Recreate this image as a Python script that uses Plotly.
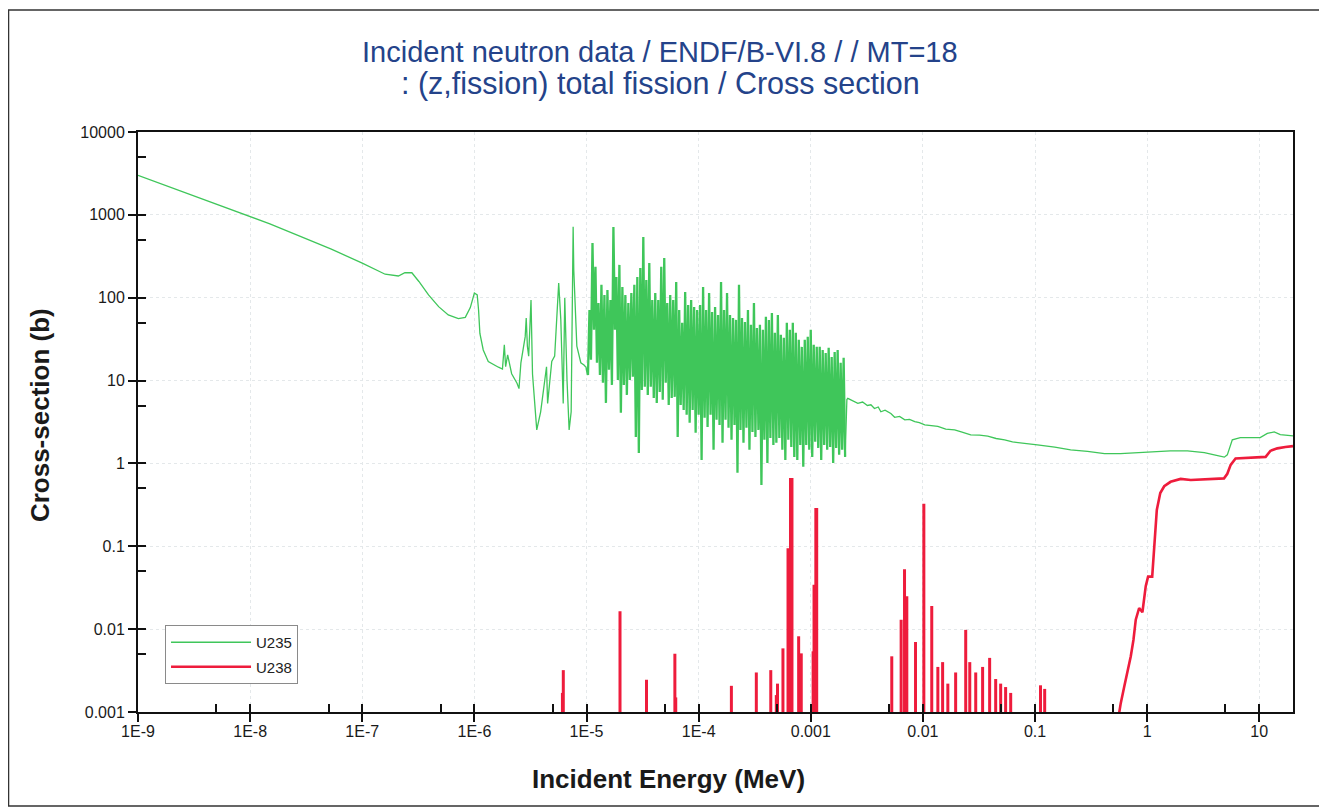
import plotly.graph_objects as go

# ---------------- data ----------------
# U235 thermal / low-energy part (MeV, barns)
u235_low_E = [1.0e-9, 2.0e-9, 5.0e-9, 1.0e-8, 1.5e-8, 2.7e-8, 5.3e-8, 1.0e-7, 1.3e-7,
              1.6e-7, 2.1e-7, 2.4e-7, 2.77e-7, 3.2e-7, 3.9e-7, 4.8e-7, 5.85e-7, 7.2e-7, 8.3e-7,
              9.2e-7, 1.0e-6, 1.06e-6, 1.09e-6, 1.12e-6, 1.2e-6, 1.33e-6, 1.64e-6, 1.78e-6, 1.85e-6,
              1.9e-6, 1.98e-6, 2.15e-6, 2.4e-6, 2.5e-6, 2.6e-6, 2.84e-6, 2.9e-6, 2.97e-6, 3.05e-6,
              3.2e-6, 3.3e-6, 3.5e-6, 3.6e-6, 3.9e-6, 4.4e-6, 4.5e-6, 4.9e-6, 5.2e-6, 5.65e-6,
              5.9e-6, 6.2e-6, 6.4e-6, 6.7e-6, 7.0e-6, 7.3e-6, 7.6e-6, 7.7e-6, 8.2e-6, 8.9e-6, 9.5e-6]
u235_low_xs = [3000, 2130, 1350, 950, 780, 560, 385, 262, 222,
               192, 183, 200, 200, 157, 108, 78, 62, 56, 58,
               76, 114, 108, 71, 37, 23.4, 17, 14.5, 13.8, 27,
               14.7, 20.4, 12.1, 9.3, 8.0, 16.4, 33.9, 57, 26, 19.7,
               94, 12, 3.4, 2.54, 4.2, 14.7, 5.3, 17, 19.7, 150,
               54, 5.3, 99, 10.2, 2.54, 4.2, 720, 216, 26, 16.4, 15.4]

# U235 resolved resonance region (alternating peaks / valleys)
u235_res_E = [
    1.000e-5, 1.031e-5, 1.063e-5, 1.096e-5, 1.131e-5, 1.166e-5, 1.202e-5, 1.240e-5, 1.278e-5, 1.318e-5,
    1.359e-5, 1.402e-5, 1.445e-5, 1.490e-5, 1.537e-5, 1.585e-5, 1.634e-5, 1.685e-5, 1.738e-5, 1.792e-5,
    1.848e-5, 1.905e-5, 1.965e-5, 2.026e-5, 2.089e-5, 2.154e-5, 2.221e-5, 2.291e-5, 2.362e-5, 2.436e-5,
    2.512e-5, 2.590e-5, 2.671e-5, 2.754e-5, 2.840e-5, 2.929e-5, 3.020e-5, 3.114e-5, 3.211e-5, 3.311e-5,
    3.415e-5, 3.521e-5, 3.631e-5, 3.744e-5, 3.861e-5, 3.981e-5, 4.105e-5, 4.233e-5, 4.365e-5, 4.502e-5,
    4.642e-5, 4.787e-5, 4.936e-5, 5.090e-5, 5.248e-5, 5.412e-5, 5.581e-5, 5.754e-5, 5.934e-5, 6.119e-5,
    6.310e-5, 6.506e-5, 6.709e-5, 6.918e-5, 7.134e-5, 7.356e-5, 7.586e-5, 7.822e-5, 8.066e-5, 8.318e-5,
    8.577e-5, 8.845e-5, 9.120e-5, 9.405e-5, 9.698e-5,
    1.000e-4, 1.031e-4, 1.063e-4, 1.096e-4, 1.131e-4, 1.166e-4, 1.202e-4, 1.240e-4, 1.278e-4, 1.318e-4,
    1.359e-4, 1.402e-4, 1.445e-4, 1.490e-4, 1.537e-4, 1.585e-4, 1.634e-4, 1.685e-4, 1.738e-4, 1.792e-4,
    1.848e-4, 1.905e-4, 1.965e-4, 2.026e-4, 2.089e-4, 2.154e-4, 2.221e-4, 2.291e-4, 2.362e-4, 2.436e-4,
    2.512e-4, 2.590e-4, 2.671e-4, 2.754e-4, 2.840e-4, 2.929e-4, 3.020e-4, 3.114e-4, 3.211e-4, 3.311e-4,
    3.415e-4, 3.521e-4, 3.631e-4, 3.744e-4, 3.861e-4, 3.981e-4, 4.105e-4, 4.233e-4, 4.365e-4, 4.502e-4,
    4.642e-4, 4.787e-4, 4.936e-4, 5.090e-4, 5.248e-4, 5.412e-4, 5.581e-4, 5.754e-4, 5.934e-4, 6.119e-4,
    6.310e-4, 6.506e-4, 6.709e-4, 6.918e-4, 7.134e-4, 7.356e-4, 7.586e-4, 7.822e-4, 8.066e-4, 8.318e-4,
    8.577e-4, 8.845e-4, 9.120e-4, 9.405e-4, 9.698e-4,
    1.000e-3, 1.031e-3, 1.063e-3, 1.096e-3, 1.131e-3, 1.166e-3, 1.202e-3, 1.240e-3, 1.278e-3, 1.318e-3,
    1.359e-3, 1.402e-3, 1.445e-3, 1.490e-3, 1.537e-3, 1.585e-3, 1.634e-3, 1.685e-3, 1.738e-3, 1.792e-3,
    1.848e-3, 1.905e-3, 1.965e-3, 2.026e-3]
u235_res_xs = [
    14.2, 11.7, 71, 17.8, 458, 41, 236, 16.4, 86.5, 11.7,
    143, 9.4, 108, 5.38, 124, 13.5, 94, 8.87, 714, 41,
    178, 10.2, 249, 4.08, 135, 8.87, 108, 6.72, 86.5, 10.2,
    114, 11.1, 143, 2.09, 178, 1.34, 229, 7.7, 542, 8.4,
    164, 6.72, 263, 8.4, 94, 6.18, 114, 5.38, 94, 7.3,
    236, 5.85, 302, 9.4, 86.5, 5.09, 108, 6.18, 94, 6.36,
    155, 2.09, 71, 5.09, 49.7, 4.43, 117, 3.86, 81.8, 3.09,
    94, 4.43, 77.4, 2.34, 71,
    3.86, 81.8, 1.10, 135, 3.55, 71, 2.76, 114, 3.86, 67.2,
    1.46, 77.4, 3.36, 62, 2.92, 155, 1.78, 71, 3.36, 114,
    2.69, 62, 1.93, 57, 2.92, 54, 0.77, 143, 2.54, 57,
    1.78, 51, 2.69, 71, 1.46, 47, 2.40, 86.5, 2.09, 43.2,
    2.54, 47, 0.55, 41, 1.93, 58.7, 1.01, 54, 2.03, 65.3,
    1.67, 37.7, 1.78, 62, 2.03, 35.6, 1.46, 32.8, 1.10, 49.7,
    1.93, 41, 1.58, 49.7, 1.20, 37.7, 1.10, 31, 1.67, 25.5,
    0.91, 31, 1.67, 33.7, 1.46,
    41, 1.20, 27, 1.83, 25.5, 1.54, 25.5, 1.10, 23.4, 1.67,
    21.5, 1.46, 24.8, 1.58, 19.3, 1.01, 22.1, 1.54, 23.4, 1.27,
    16.4, 1.46, 18.8, 1.20]

# U235 unresolved / fast part
u235_fast_E = [2.1e-3, 2.14e-3, 2.4e-3, 2.63e-3, 2.9e-3, 3.2e-3, 3.44e-3, 3.7e-3, 4.0e-3, 4.22e-3,
               4.6e-3, 5.18e-3, 5.6e-3, 6.2e-3, 6.9e-3, 7.6e-3, 8.47e-3, 9.3e-3, 1.04e-2, 1.2e-2,
               1.36e-2, 1.6e-2, 1.92e-2, 2.2e-2, 2.67e-2, 3.2e-2, 3.79e-2, 4.5e-2, 5.36e-2, 6.3e-2,
               7.44e-2, 0.105, 0.15, 0.208, 0.294, 0.417, 0.578, 0.82, 1.16, 1.61,
               2.29, 3.24, 3.97, 4.88, 5.19, 5.75, 6.78, 10.2, 11.8, 13.6, 15.4, 20.0]
u235_fast_xs = [5.9, 6.1, 5.6, 5.3, 5.5, 5.0, 5.1, 4.6, 4.8, 4.2,
                4.4, 4.0, 3.6, 3.7, 3.36, 3.4, 3.2, 3.1, 2.92, 2.85,
                2.8, 2.6, 2.54, 2.4, 2.21, 2.2, 2.13, 2.0, 1.93, 1.82,
                1.76, 1.67, 1.57, 1.46, 1.40, 1.31, 1.31, 1.35, 1.40, 1.42,
                1.42, 1.35, 1.27, 1.19, 1.27, 1.93, 2.05, 2.05, 2.3, 2.4, 2.23, 2.15]

# U238 fission threshold part
u238_E = [0.55, 0.582, 0.624, 0.668, 0.715, 0.755, 0.792, 0.849, 0.908, 0.972,
          1.02, 1.11, 1.17, 1.22, 1.31, 1.42, 1.62, 1.99, 2.45, 3.22,
          4.85, 5.19, 5.56, 6.15, 8.37, 11.4, 12.6, 14.5, 17.1, 20.0]
u238_xs = [0.0008, 0.00128, 0.002, 0.00295, 0.0047, 0.0074, 0.013, 0.018, 0.016, 0.033,
           0.043, 0.043, 0.109, 0.275, 0.44, 0.53, 0.60, 0.65, 0.63, 0.64,
           0.66, 0.75, 0.96, 1.15, 1.17, 1.20, 1.42, 1.52, 1.58, 1.62]

# U238 sub-threshold resonance peaks (MeV, barns)
u238_res_E = [6.1e-6, 6.21e-6, 1.99e-5, 3.43e-5, 6.14e-5, 6.25e-5, 1.96e-4, 3.27e-4, 4.40e-4, 4.93e-4,
              5.05e-4, 5.65e-4, 6.27e-4, 6.6e-4, 6.8e-4, 7.80e-4, 8.23e-4, 1.05e-3, 1.07e-3, 1.11e-3,
              1.13e-3, 5.28e-3, 6.40e-3, 6.86e-3, 7.19e-3, 8.60e-3, 1.02e-2, 1.20e-2, 1.36e-2, 1.50e-2,
              1.67e-2, 1.96e-2, 2.41e-2, 2.62e-2, 2.96e-2, 3.41e-2, 3.94e-2, 4.46e-2, 4.94e-2, 5.47e-2,
              6.07e-2, 0.112, 0.122]
u238_res_xs = [0.0017, 0.0032, 0.0164, 0.00245, 0.00505, 0.0015, 0.00207, 0.0030, 0.0032, 0.0016,
               0.0022, 0.00586, 0.095, 0.665, 0.665, 0.0082, 0.0051, 0.0054, 0.0343, 0.289,
               0.289, 0.0047, 0.013, 0.053, 0.025, 0.0070, 0.326, 0.019, 0.0035, 0.004,
               0.0022, 0.003, 0.0098, 0.004, 0.003, 0.0035, 0.0045, 0.0025, 0.0022, 0.002,
               0.0017, 0.0021, 0.0019]

x_tick_vals = [1e-9, 1e-8, 1e-7, 1e-6, 1e-5, 1e-4, 1e-3, 1e-2, 1e-1, 1, 10]
x_tick_text = ["1E-9", "1E-8", "1E-7", "1E-6", "1E-5", "1E-4", "0.001", "0.01", "0.1", "1", "10"]
x_minor_vals = [5e-9, 5e-8, 5e-7, 5e-6, 5e-5, 5e-4, 5e-3, 5e-2, 0.5, 5]
y_tick_vals = [1e-3, 1e-2, 1e-1, 1, 10, 100, 1000, 10000]
y_tick_text = ["0.001", "0.01", "0.1", "1", "10", "100", "1000", "10000"]
y_minor_vals = [5e-3, 5e-2, 0.5, 5, 50, 500, 5000]

# ---------------- figure ----------------
GREEN = "#3fc65a"
RED = "#ee1c3c"
FONT = "Liberation Sans, Arial, sans-serif"

spk_x, spk_y = [], []
for e, v in zip(u238_res_E, u238_res_xs):
    spk_x += [e, e, None]
    spk_y += [1e-5, v, None]

fig = go.Figure()
fig.add_trace(go.Scatter(x=u235_low_E + u235_res_E[:1], y=u235_low_xs + u235_res_xs[:1],
                         mode="lines", name="U235", legendgroup="u235",
                         line=dict(color=GREEN, width=1.3)))
fig.add_trace(go.Scatter(x=u235_res_E, y=u235_res_xs, mode="lines", showlegend=False,
                         legendgroup="u235", line=dict(color=GREEN, width=2.3)))
fig.add_trace(go.Scatter(x=u235_res_E[-1:] + u235_fast_E, y=u235_res_xs[-1:] + u235_fast_xs,
                         mode="lines", showlegend=False, legendgroup="u235",
                         line=dict(color=GREEN, width=1.3)))
fig.add_trace(go.Scatter(x=u238_E, y=u238_xs, mode="lines", name="U238",
                         legendgroup="u238", line=dict(color=RED, width=2.6)))
fig.add_trace(go.Scatter(x=spk_x, y=spk_y, mode="lines", showlegend=False,
                         legendgroup="u238", line=dict(color=RED, width=3)))
# invisible trace holding the overlay axes used for inner halves of major ticks
fig.add_trace(go.Scatter(x=[1e-12], y=[1e-12], xaxis="x2", yaxis="y2", mode="markers",
                         marker=dict(opacity=0), showlegend=False, hoverinfo="skip"))

XR = [-9, 1.30103]
YR = [-3, 4]
tickfont = dict(family=FONT, size=16, color="#1a1a1a")

fig.update_layout(
    width=1319, height=803,
    paper_bgcolor="white", plot_bgcolor="white",
    margin=dict(l=130, r=34, t=124, b=99),
    showlegend=True,
    legend=dict(x=0.0234, y=0.15, xanchor="left", yanchor="top",
                bgcolor="white", bordercolor="#8a8a8a", borderwidth=1,
                font=dict(family=FONT, size=15, color="#222"),
                itemwidth=80, tracegroupgap=2),
    xaxis=dict(type="log", range=XR, tickvals=x_tick_vals, ticktext=x_tick_text,
               ticks="outside", ticklen=8, tickwidth=2, tickcolor="#111",
               ticklabelstandoff=-4,
               showline=True, linecolor="#111", linewidth=2, mirror=True,
               showgrid=True, gridcolor="#e4e8ea", griddash="dot", gridwidth=1,
               zeroline=False, tickfont=tickfont,
               minor=dict(tickmode="array", tickvals=x_minor_vals, ticks="inside",
                          ticklen=8, tickwidth=1.5, tickcolor="#111", showgrid=False)),
    yaxis=dict(type="log", range=YR, tickvals=y_tick_vals, ticktext=y_tick_text,
               ticks="outside", ticklen=8, tickwidth=2, tickcolor="#111",
               showline=True, linecolor="#111", linewidth=2, mirror=True,
               showgrid=True, gridcolor="#e4e8ea", griddash="dot", gridwidth=1,
               zeroline=False, tickfont=tickfont,
               minor=dict(tickmode="array", tickvals=y_minor_vals, ticks="inside",
                          ticklen=8, tickwidth=1.5, tickcolor="#111", showgrid=False)),
    xaxis2=dict(type="log", range=XR, overlaying="x", anchor="y2", side="bottom",
                tickvals=x_tick_vals, ticks="inside", ticklen=8, tickwidth=2, tickcolor="#111",
                showticklabels=False, showgrid=False, showline=False, zeroline=False),
    yaxis2=dict(type="log", range=YR, overlaying="y", anchor="x2", side="left",
                tickvals=y_tick_vals, ticks="inside", ticklen=8, tickwidth=2, tickcolor="#111",
                showticklabels=False, showgrid=False, showline=False, zeroline=False),
    annotations=[
        dict(text="Incident neutron data / ENDF/B-VI.8 / / MT=18", xref="paper", yref="paper",
             x=0.452, y=1.138, xanchor="center", yanchor="middle", showarrow=False,
             font=dict(family=FONT, size=29, color="#24438a")),
        dict(text=": (z,fission) total fission / Cross section", xref="paper", yref="paper",
             x=0.452, y=1.083, xanchor="center", yanchor="middle", showarrow=False,
             font=dict(family=FONT, size=30.5, color="#24438a")),
        dict(text="<b>Incident Energy (MeV)</b>", xref="paper", yref="paper",
             x=0.4597, y=-0.1155, xanchor="center", yanchor="middle", showarrow=False,
             font=dict(family=FONT, size=26, color="#1a1a1a")),
        dict(text="<b>Cross-section (b)</b>", xref="paper", yref="paper",
             x=-0.0848, y=0.512, xanchor="center", yanchor="middle", showarrow=False,
             textangle=-90, font=dict(family=FONT, size=26, color="#1a1a1a")),
    ],
    shapes=[
        dict(type="rect", xref="paper", yref="paper",
             x0=-0.1121, x1=1.0242, y0=-0.162, y1=1.2103,
             line=dict(color="#333", width=1.5), fillcolor="rgba(0,0,0,0)", layer="below"),
    ],
)

fig.write_html("out.html")
